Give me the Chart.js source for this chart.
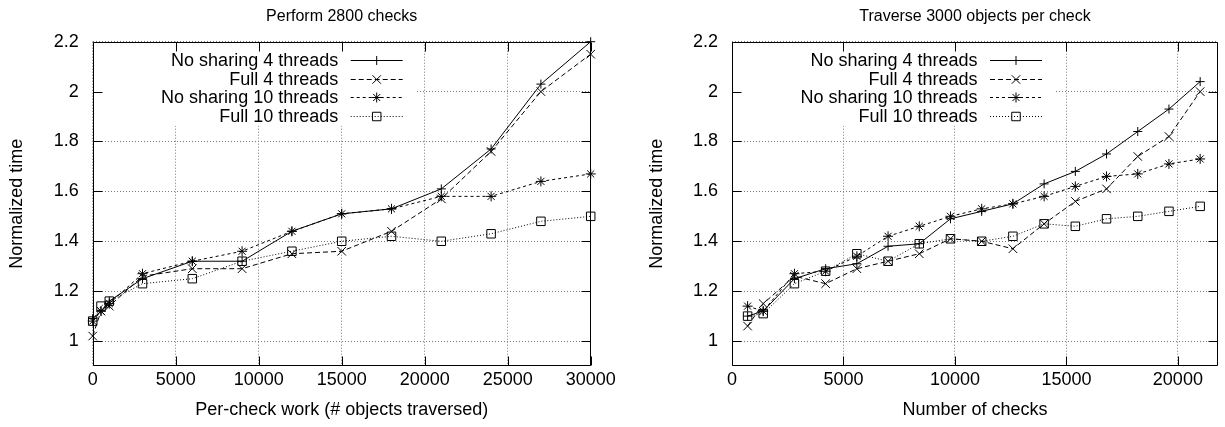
<!DOCTYPE html>
<html>
<head>
<meta charset="utf-8">
<script src="https://cdn.jsdelivr.net/npm/chart.js@4.4.1/dist/chart.umd.min.js"></script>
<style>
  html, body { margin: 0; padding: 0; background: #fff; overflow: hidden; }
  #wrap { position: relative; width: 1225px; height: 427px; }
  canvas { position: absolute; top: 0; }
  #c1 { left: 0; }
  #c2 { left: 640px; }
</style>
</head>
<body>
<div id="wrap">
  <canvas id="c1" width="640" height="427"></canvas>
  <canvas id="c2" width="585" height="427"></canvas>
</div>
<script>
// left plot: 2800 checks, varying work per check
const workX = [0, 500, 1000, 3000, 6000, 9000, 12000, 15000, 18000, 21000, 24000, 27000, 30000];
const workNoShare4 = [1.09, 1.12, 1.16, 1.25, 1.32, 1.32, 1.44, 1.51, 1.53, 1.61, 1.77, 2.03, 2.20];
const workFull4 = [1.02, 1.12, 1.14, 1.26, 1.29, 1.29, 1.35, 1.36, 1.44, 1.57, 1.76, 2.00, 2.15];
const workNoShare10 = [1.08, 1.12, 1.15, 1.27, 1.32, 1.36, 1.44, 1.51, 1.53, 1.58, 1.58, 1.64, 1.67];
const workFull10 = [1.08, 1.14, 1.16, 1.23, 1.25, 1.32, 1.36, 1.40, 1.42, 1.40, 1.43, 1.48, 1.50];

// right plot: 3000 objects per check, varying number of checks
const checksX = [700, 1400, 2800, 4200, 5600, 7000, 8400, 9800, 11200, 12600, 14000, 15400, 16800, 18200, 19600, 21000];
const checksNoShare4 = [1.10, 1.12, 1.25, 1.29, 1.31, 1.38, 1.39, 1.49, 1.52, 1.55, 1.63, 1.68, 1.75, 1.84, 1.93, 2.04];
const checksFull4 = [1.06, 1.15, 1.26, 1.23, 1.29, 1.32, 1.35, 1.41, 1.40, 1.37, 1.47, 1.56, 1.61, 1.74, 1.82, 2.00];
const checksNoShare10 = [1.14, 1.12, 1.27, 1.28, 1.34, 1.42, 1.46, 1.50, 1.53, 1.55, 1.58, 1.62, 1.66, 1.67, 1.71, 1.73];
const checksFull10 = [1.10, 1.11, 1.23, 1.28, 1.35, 1.32, 1.39, 1.41, 1.40, 1.42, 1.47, 1.46, 1.49, 1.50, 1.52, 1.54];

const seriesLabels = ['No sharing 4 threads', 'Full 4 threads', 'No sharing 10 threads', 'Full 10 threads'];
const yTicks = [1, 1.2, 1.4, 1.6, 1.8, 2, 2.2];
const workTicks = [0, 5000, 10000, 15000, 20000, 25000, 30000];
const checksTicks = [0, 5000, 10000, 15000, 20000];

const FONT = "'Liberation Sans', Arial, Helvetica, sans-serif";
Chart.defaults.font.family = FONT;
Chart.defaults.font.size = 18;
Chart.defaults.color = '#000';

// gnuplot-ish line/point styles
const styles = [
  { dash: [], point: 'cross', radius: 4.5 },
  { dash: [5, 3], point: 'crossRot', radius: 6 },
  { dash: [3, 3], point: 'star', radius: 5 },
  { dash: [1, 2], point: 'rect', radius: 6 },
];

function makeDatasets(xs, seriesList) {
  return seriesList.map((ys, i) => ({
    label: seriesLabels[i],
    data: xs.map((x, j) => ({ x: x, y: ys[j] })),
    borderColor: '#000',
    borderWidth: 1,
    borderDash: styles[i].dash,
    pointStyle: styles[i].point,
    pointRadius: styles[i].radius,
    pointBorderColor: '#000',
    pointBackgroundColor: 'rgba(0,0,0,0)',
    pointBorderWidth: 1,
    tension: 0,
    clip: false,
  }));
}

// frame, inward ticks, opaque key and title
const gnuplotLook = {
  id: 'gnuplotLook',
  beforeDatasetsDraw(chart) {
    const { ctx, chartArea: a } = chart;
    const xs = chart.scales.x, ys = chart.scales.y;
    ctx.save();
    // key background hides the grid
    ctx.fillStyle = '#fff';
    ctx.fillRect(a.left + 1, a.top + 1, 322, 83);
    ctx.strokeStyle = '#000';
    ctx.lineWidth = 1;
    ctx.setLineDash([]);
    ctx.beginPath();
    const L = Math.round(a.left) + 0.5, R = Math.round(a.right) - 0.5;
    const T = Math.round(a.top) + 0.5, B = Math.round(a.bottom) - 0.5;
    ctx.rect(L, T, R - L, B - T);
    xs.ticks.forEach(t => {
      const px = Math.round(xs.getPixelForValue(t.value)) + 0.5;
      ctx.moveTo(px, B); ctx.lineTo(px, B - 9);
      ctx.moveTo(px, T); ctx.lineTo(px, T + 9);
    });
    ys.ticks.forEach(t => {
      const py = Math.round(ys.getPixelForValue(t.value)) + 0.5;
      ctx.moveTo(L, py); ctx.lineTo(L + 9, py);
      ctx.moveTo(R, py); ctx.lineTo(R - 9, py);
    });
    ctx.stroke();
    ctx.restore();
  },
  afterDatasetsDraw(chart, args, opts) {
    const { ctx, chartArea: a } = chart;
    ctx.save();
    ctx.fillStyle = '#000';
    // title
    ctx.font = '16px ' + FONT;
    ctx.textAlign = 'center';
    ctx.textBaseline = 'middle';
    ctx.fillText(opts.title, (a.left + a.right) / 2, 17);
    // key
    ctx.font = '18px ' + FONT;
    ctx.textAlign = 'right';
    chart.data.datasets.forEach((ds, i) => {
      const y = a.top + 18.5 + i * 18.6;
      ctx.fillStyle = '#000';
      ctx.fillText(ds.label, a.left + 245.5, y + 1);
      const x1 = a.left + 258, x2 = a.left + 310;
      ctx.strokeStyle = '#000';
      ctx.lineWidth = 1;
      ctx.setLineDash(ds.borderDash);
      ctx.beginPath();
      ctx.moveTo(x1, Math.round(y) + 0.5);
      ctx.lineTo(x2, Math.round(y) + 0.5);
      ctx.stroke();
      ctx.setLineDash([]);
      ctx.fillStyle = 'rgba(0,0,0,0)';
      Chart.helpers.drawPoint(ctx, {
        pointStyle: ds.pointStyle, radius: ds.pointRadius, rotation: 0, borderWidth: 1
      }, (x1 + x2) / 2, Math.round(y) + 0.5);
    });
    ctx.restore();
  }
};

function makeChart(id, opts) {
  return new Chart(document.getElementById(id), {
    type: 'line',
    data: { datasets: makeDatasets(opts.xs, opts.series) },
    options: {
      responsive: false,
      animation: false,
      layout: { padding: { top: 41.7, right: opts.padRight, bottom: 0, left: 0 } },
      plugins: {
        legend: { display: false },
        tooltip: { enabled: false },
        gnuplotLook: { title: opts.title },
      },
      scales: {
        x: {
          type: 'linear',
          min: opts.xMin,
          max: opts.xMax,
          afterBuildTicks: s => { s.ticks = opts.xTicks.map(v => ({ value: v })); },
          afterFit: s => { s.height = 61; },
          ticks: { padding: 3, maxRotation: 0, autoSkip: false, callback: v => String(v) },
          grid: { color: '#7a7a7a', lineWidth: 1, drawTicks: false },
          border: { display: false, dash: [1, 2] },
          title: { display: true, text: opts.xTitle, padding: { top: 0, bottom: 6 } },
        },
        y: {
          min: 0.9,
          max: 2.2,
          afterBuildTicks: s => { s.ticks = yTicks.map(v => ({ value: v })); },
          afterFit: s => { s.width = opts.yWidth; },
          ticks: { padding: 14, callback: v => String(+v.toFixed(2)) },
          grid: { color: '#7a7a7a', lineWidth: 1, drawTicks: false },
          border: { display: false, dash: [1, 2] },
          title: { display: true, text: 'Normalized time', padding: { top: 6, bottom: 0 } },
        },
      },
    },
    plugins: [gnuplotLook],
  });
}

makeChart('c1', {
  xs: workX,
  series: [workNoShare4, workFull4, workNoShare10, workFull10],
  title: 'Perform 2800 checks',
  xTitle: 'Per-check work (# objects traversed)',
  xMin: 0, xMax: 30000, xTicks: workTicks,
  yWidth: 92.7, padRight: 49.3,
});

makeChart('c2', {
  xs: checksX,
  series: [checksNoShare4, checksFull4, checksNoShare10, checksFull10],
  title: 'Traverse 3000 objects per check',
  xTitle: 'Number of checks',
  xMin: 0, xMax: 21800, xTicks: checksTicks,
  yWidth: 92, padRight: 0.5,
});
</script>
</body>
</html>
